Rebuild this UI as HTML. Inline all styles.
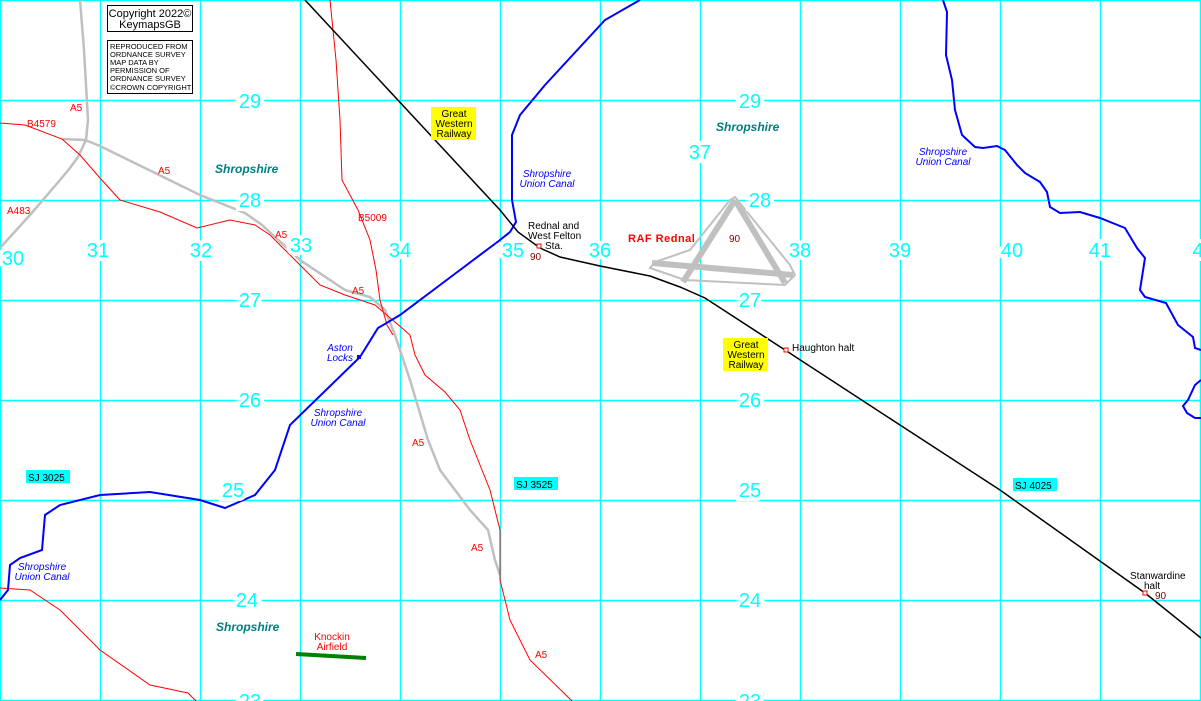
<!DOCTYPE html><html><head><style>body{margin:0;background:#fff}svg{display:block}</style></head><body>
<svg width="1201" height="701" viewBox="0 0 1201 701" xmlns="http://www.w3.org/2000/svg" font-family="Liberation Sans, sans-serif">
<rect width="1201" height="701" fill="#fff"/>
<g stroke="#00ffff" stroke-width="1.5">
<line x1="0.5" y1="0" x2="0.5" y2="701"/><line x1="100.5" y1="0" x2="100.5" y2="701"/><line x1="200.5" y1="0" x2="200.5" y2="701"/><line x1="300.5" y1="0" x2="300.5" y2="701"/><line x1="400.5" y1="0" x2="400.5" y2="701"/><line x1="500.5" y1="0" x2="500.5" y2="701"/><line x1="600.5" y1="0" x2="600.5" y2="701"/><line x1="700.5" y1="0" x2="700.5" y2="701"/><line x1="800.5" y1="0" x2="800.5" y2="701"/><line x1="900.5" y1="0" x2="900.5" y2="701"/><line x1="1000.5" y1="0" x2="1000.5" y2="701"/><line x1="1100.5" y1="0" x2="1100.5" y2="701"/><line x1="1200.5" y1="0" x2="1200.5" y2="701"/>
<line x1="0" y1="0.5" x2="1201" y2="0.5"/><line x1="0" y1="100.5" x2="1201" y2="100.5"/><line x1="0" y1="200.5" x2="1201" y2="200.5"/><line x1="0" y1="300.5" x2="1201" y2="300.5"/><line x1="0" y1="400.5" x2="1201" y2="400.5"/><line x1="0" y1="500.5" x2="1201" y2="500.5"/><line x1="0" y1="600.5" x2="1201" y2="600.5"/><line x1="0" y1="700.5" x2="1201" y2="700.5"/>
</g>
<g fill="none" stroke="#c0c0c0">
<polygon points="735,197 790,265 795,275 785,285 685,280 650,268 655,262 690,250 730,200" stroke-width="2"/>
<path d="M735,200 L683,282 M735,200 L785,283 M652,263 L793,275" stroke-width="6"/>
</g>
<g fill="none" stroke="#c0c0c0" stroke-width="2.5">
<path d="M80,0 L84,50 L88,120 L86,140 L78,157 L70,168 L60,180 L30,215 L0,248"/>
<path d="M62,139 L85,140 L100,146 L200,195 L245,213 L262,225 L300,260 L345,290 L370,297 L385,310 L395,335 L410,380 L428,440 L440,470 L470,510 L488,530 L495,560 L500,575"/>
</g>
<g fill="none" stroke="#ff0000" stroke-width="1">
<path d="M0,123 L25,125 L62,139 L80,155 L100,178 L120,200 L160,212 L197,228 L230,220 L255,225 L270,235 L300,265 L320,285 L345,295 L375,305 L395,322 L410,335 L415,355 L425,375 L445,392 L460,410 L470,440 L490,490 L500,530 L500,580 L510,620 L530,660 L572,701"/>
<path d="M330,0 L336,60 L340,120 L342,180 L358,210 L370,240 L376,270 L380,300 L387,325 L393,335"/>
<path d="M0,588 L30,590 L60,610 L100,650 L150,685 L188,693 L196,701"/>
</g>
<g fill="none" stroke="#0000ff" stroke-width="2">
<path d="M640,0 L605,20 L545,85 L520,115 L512,135 L512,200 L516,222 L510,232 L500,240 L460,270 L400,315 L378,328 L360,357 L290,425 L275,470 L255,495 L225,508 L200,500 L150,492 L100,495 L60,505 L45,515 L42,550 L20,558 L10,565 L8,590 L0,600"/>
<path d="M943,0 L947,12 L946,55 L952,80 L955,110 L962,135 L975,147 L983,148 L997,146 L1005,150 L1017,165 L1025,173 L1040,182 L1047,192 L1050,207 L1060,213 L1080,212 L1100,218 L1125,228 L1137,248 L1145,258 L1140,290 L1145,297 L1166,303 L1178,325 L1193,337 L1195,348 L1201,350"/>
<path d="M1201,380 L1195,385 L1188,400 L1183,406 L1187,413 L1195,418 L1201,418"/>
</g>
<path d="M305,0 L500,210 L518,232 L540,248 L560,257 L600,266 L650,276 L680,287 L705,298 L785,350 L900,425 L1000,490 L1145,593 L1201,638" fill="none" stroke="#000" stroke-width="1.5"/>
<line x1="296" y1="654" x2="366" y2="658" stroke="#008000" stroke-width="4"/>
<g fill="#fff" stroke="#ff0000" stroke-width="1"><rect x="537" y="244" width="4" height="4"/><rect x="784" y="348" width="4" height="4"/><rect x="1143" y="591" width="4" height="4"/></g>
<rect x="357" y="355" width="4" height="4" fill="#0000ff"/>
<rect x="107.5" y="5.5" width="85" height="26" fill="#fff" stroke="#000"/>
<text x="150" y="17" font-size="11" text-anchor="middle">Copyright 2022©</text>
<text x="150" y="28" font-size="11" text-anchor="middle">KeymapsGB</text>
<rect x="107.5" y="40.5" width="85" height="53" fill="#fff" stroke="#000"/>
<g font-size="7.5"><text x="110" y="49">REPRODUCED FROM</text><text x="110" y="57">ORDNANCE SURVEY</text><text x="110" y="65">MAP DATA BY</text><text x="110" y="73">PERMISSION OF</text><text x="110" y="81">ORDNANCE SURVEY</text><text x="110" y="90">©CROWN COPYRIGHT</text></g>
<g fill="#00ffff" font-size="20" text-anchor="middle" stroke="#fff" stroke-width="8" paint-order="stroke">
<text x="250" y="108">29</text><text x="750" y="108">29</text>
<text x="250" y="207">28</text><text x="760" y="207">28</text>
<text x="250" y="307">27</text><text x="750" y="307">27</text>
<text x="250" y="407">26</text><text x="750" y="407">26</text>
<text x="233" y="497">25</text><text x="750" y="497">25</text>
<text x="247" y="607">24</text><text x="750" y="607">24</text>
<text x="250" y="708">23</text><text x="750" y="708">23</text>
<text x="13" y="265">30</text><text x="98" y="257">31</text><text x="201" y="257">32</text><text x="301" y="252">33</text><text x="400" y="257">34</text><text x="513" y="257">35</text><text x="600" y="257">36</text><text x="700" y="159">37</text><text x="800" y="257">38</text><text x="900" y="257">39</text><text x="1012" y="257">40</text><text x="1100" y="257">41</text><text x="1198" y="257">4</text>
</g>
<g font-size="10"><rect x="26" y="470" width="44" height="13" fill="#00ffff"/><text x="28" y="481">SJ 3025</text>
<rect x="514" y="477" width="44" height="13" fill="#00ffff"/><text x="516" y="488">SJ 3525</text>
<rect x="1013" y="478" width="44" height="13" fill="#00ffff"/><text x="1015" y="489">SJ 4025</text></g>
<g font-size="10" text-anchor="middle"><rect x="431" y="107" width="45" height="33" fill="#ffff00"/><text x="454" y="117">Great</text><text x="454" y="127">Western</text><text x="454" y="137">Railway</text>
<rect x="723" y="338" width="45" height="33" fill="#ffff00"/><text x="746" y="348">Great</text><text x="746" y="358">Western</text><text x="746" y="368">Railway</text></g>
<g font-size="10"><text x="528" y="229">Rednal and</text><text x="528" y="239">West Felton</text><text x="545" y="249">Sta.</text><text x="792" y="351">Haughton halt</text><text x="1130" y="579">Stanwardine</text><text x="1144" y="589">halt</text></g>
<g font-size="10" fill="#800000"><text x="530" y="260">90</text><text x="729" y="242">90</text><text x="1155" y="599">90</text></g>
<text x="628" y="242" font-size="11" font-weight="bold" fill="#ff0000" letter-spacing="0.5">RAF Rednal</text>
<g font-size="12" font-weight="bold" font-style="italic" fill="#008080"><text x="215" y="173">Shropshire</text><text x="716" y="131">Shropshire</text><text x="216" y="631">Shropshire</text></g>
<g font-size="10" font-style="italic" fill="#0000ff" text-anchor="middle"><text x="547" y="177">Shropshire</text><text x="547" y="187">Union Canal</text>
<text x="943" y="155">Shropshire</text><text x="943" y="165">Union Canal</text>
<text x="338" y="416">Shropshire</text><text x="338" y="426">Union Canal</text>
<text x="42" y="570">Shropshire</text><text x="42" y="580">Union Canal</text>
<text x="340" y="351">Aston</text><text x="340" y="361">Locks</text></g>
<g font-size="10" fill="#ff0000"><text x="70" y="111">A5</text><text x="27" y="127">B4579</text><text x="158" y="174">A5</text><text x="7" y="214">A483</text><text x="275" y="238">A5</text><text x="358" y="221">B5009</text><text x="352" y="294">A5</text><text x="412" y="446">A5</text><text x="471" y="551">A5</text><text x="535" y="658">A5</text>
<text x="332" y="640" text-anchor="middle">Knockin</text><text x="332" y="650" text-anchor="middle">Airfield</text></g>
</svg></body></html>
